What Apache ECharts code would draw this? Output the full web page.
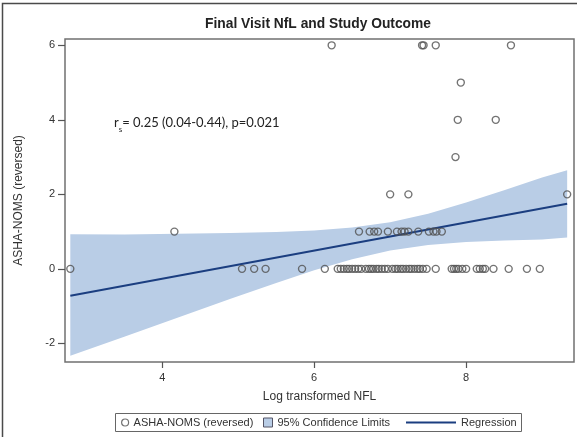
<!DOCTYPE html>
<html>
<head>
<meta charset="utf-8">
<script src="https://cdn.jsdelivr.net/npm/echarts@6/dist/echarts.min.js"></script>
<style>
html,body{margin:0;padding:0;background:#fff;}
#chart{width:577px;height:437px;}
</style>
</head>
<body>
<div id="chart"></div>
<script>
// ---- Data ----
// Log transformed NFL values for each ASHA-NOMS (reversed) outcome level
var nflAt0 = [2.79, 5.05, 5.21, 5.36, 5.84, 6.14, 6.31, 6.35, 6.39, 6.43, 6.46, 6.50, 6.54, 6.58, 6.62,
              6.68, 6.72, 6.75, 6.78, 6.82, 6.85, 6.89, 6.93, 6.97, 7.03, 7.07, 7.10, 7.14, 7.17, 7.21,
              7.25, 7.28, 7.32, 7.36, 7.39, 7.43, 7.48, 7.60, 7.81, 7.84, 7.87, 7.90, 7.95, 8.00,
              8.14, 8.18, 8.22, 8.25, 8.36, 8.56, 8.80, 8.97];
var nflAt1 = [4.16, 6.59, 6.73, 6.79, 6.84, 6.97, 7.09, 7.15, 7.19, 7.24, 7.37, 7.51, 7.57, 7.61, 7.68];
var nflAt2 = [7.00, 7.24, 9.33];
var nflAt3 = [7.86];
var nflAt4 = [7.89, 8.39];
var nflAt5 = [7.93];
var nflAt6 = [6.23, 7.42, 7.44, 7.60, 8.59];

// Regression line end points
var regX = [2.79, 9.33];
var regY = [-0.72, 1.745];

// 95% confidence band (read at several x positions)
var bandX     = [2.79, 3.5, 4.2, 4.9, 5.5, 6.0, 6.5, 7.0, 7.5, 8.0, 8.5, 9.0, 9.33];
var bandLower = [-2.33, -1.82, -1.31, -0.80, -0.38, -0.04, 0.26, 0.49, 0.64, 0.72, 0.76, 0.79, 0.84];
var bandUpper = [0.93, 0.92, 0.94, 0.96, 0.99, 1.03, 1.11, 1.25, 1.48, 1.78, 2.11, 2.45, 2.65];

var xTicks = [4, 6, 8];
var yTicks = [-2, 0, 2, 4, 6];

// ---- Build chart ----
var groups = [nflAt0, nflAt1, nflAt2, nflAt3, nflAt4, nflAt5, nflAt6];
var scatterData = [];
groups.forEach(function (arr, level) {
  arr.forEach(function (x) { scatterData.push([x, level]); });
});
var regData = regX.map(function (x, i) { return [x, regY[i]]; });
var bandData = bandX.map(function (x, i) { return [x, bandLower[i], bandUpper[i]]; });

var bandColor = '#b9cde6';
var lineColor = '#1b3e80';
var ptColor = '#505050';
var font = 'Liberation Sans, Arial, sans-serif';

var chart = echarts.init(document.getElementById('chart'), null, {renderer: 'canvas'});
chart.setOption({
  backgroundColor: '#ffffff',
  animation: false,
  title: {
    text: 'Final Visit NfL and Study Outcome',
    left: 318,
    textAlign: 'center',
    top: 17,
    padding: 0,
    textStyle: {fontFamily: font, fontSize: 13.8, fontWeight: 'bold', color: '#222'}
  },
  grid: {
    left: 65, top: 39, right: 3, bottom: 75,
    show: true, borderColor: '#707070', borderWidth: 1.5, backgroundColor: '#fff'
  },
  xAxis: {
    type: 'value', min: 2.72, max: 9.42,
    name: 'Log transformed NFL', nameLocation: 'middle', nameGap: 29,
    nameTextStyle: {fontFamily: font, fontSize: 12, color: '#333'},
    axisLine: {show: false, onZero: false},
    splitLine: {show: false},
    axisTick: {show: true, customValues: xTicks, length: 6, lineStyle: {color: '#555', width: 1.2}},
    axisLabel: {customValues: xTicks, fontFamily: font, fontSize: 11, color: '#333', margin: 10}
  },
  yAxis: {
    type: 'value', min: -2.5, max: 6.17,
    name: 'ASHA-NOMS (reversed)', nameLocation: 'middle', nameGap: 40,
    nameTextStyle: {fontFamily: font, fontSize: 12, color: '#333'},
    axisLine: {show: false, onZero: false},
    splitLine: {show: false},
    axisTick: {show: true, customValues: yTicks, length: 7, lineStyle: {color: '#555', width: 1.2}},
    axisLabel: {customValues: yTicks, fontFamily: font, fontSize: 11, color: '#333', margin: 10}
  },
  legend: [
    {
      left: 121, top: 417, padding: 0, itemGap: 0, itemWidth: 7, itemHeight: 7,
      textStyle: {fontFamily: font, fontSize: 11, color: '#333'},
      data: [{name: 'ASHA-NOMS (reversed)', icon: 'circle',
              itemStyle: {color: 'rgba(0,0,0,0)', borderColor: ptColor, borderWidth: 1.2}}]
    },
    {
      left: 263, top: 417, padding: 0, itemGap: 0, itemWidth: 9, itemHeight: 9,
      textStyle: {fontFamily: font, fontSize: 11, color: '#333'},
      data: [{name: '95% Confidence Limits', icon: 'rect',
              itemStyle: {color: bandColor, borderColor: '#556', borderWidth: 1}}]
    },
    {
      left: 406, top: 417, padding: 0, itemGap: 0, itemWidth: 50, itemHeight: 2,
      textStyle: {fontFamily: font, fontSize: 11, color: '#333'},
      data: [{name: 'Regression', icon: 'rect', itemStyle: {color: lineColor}}]
    }
  ],
  graphic: [
    {
      type: 'rect', silent: true, z: 100,
      shape: {x: 2.5, y: 3.5, width: 620, height: 500},
      style: {fill: 'none', stroke: '#4a4a4a', lineWidth: 1.5}
    },
    {
      type: 'rect', silent: true, z: 100,
      shape: {x: 115.5, y: 413.5, width: 406, height: 18},
      style: {fill: 'none', stroke: '#666', lineWidth: 1}
    },
    {
      type: 'text', silent: true, z: 100,
      x: 114, y: 113,
      style: {
        text: '{a|r}{s|s}{a|= 0.25 (0.04-0.44), p=0.021}',
        rich: {
          a: {fontFamily: 'Lato, Open Sans, sans-serif', fontSize: 13, fill: '#222', verticalAlign: 'bottom', lineHeight: 16},
          s: {fontFamily: 'Lato, Open Sans, sans-serif', fontSize: 8, fill: '#222', verticalAlign: 'bottom', padding: [0, 0, -4, 0], lineHeight: 16}
        }
      }
    }
  ],
  series: [
    {
      name: '95% Confidence Limits',
      type: 'custom',
      z: 1,
      data: bandData,
      encode: {x: 0, y: [1, 2]},
      itemStyle: {color: bandColor},
      renderItem: function (params, api) {
        if (params.dataIndex !== 0) return null;
        var pts = [];
        for (var i = 0; i < bandX.length; i++) pts.push(api.coord([bandX[i], bandUpper[i]]));
        for (var j = bandX.length - 1; j >= 0; j--) pts.push(api.coord([bandX[j], bandLower[j]]));
        return {type: 'polygon', shape: {points: pts}, style: {fill: bandColor}};
      }
    },
    {
      name: 'Regression',
      type: 'line',
      z: 3,
      data: regData,
      showSymbol: false,
      lineStyle: {color: lineColor, width: 2},
      itemStyle: {color: lineColor}
    },
    {
      name: 'ASHA-NOMS (reversed)',
      type: 'scatter',
      z: 4,
      data: scatterData,
      symbol: 'circle',
      symbolSize: 7,
      itemStyle: {color: 'rgba(0,0,0,0)', borderColor: ptColor, borderWidth: 1.4}
    }
  ]
});
</script>
</body>
</html>
